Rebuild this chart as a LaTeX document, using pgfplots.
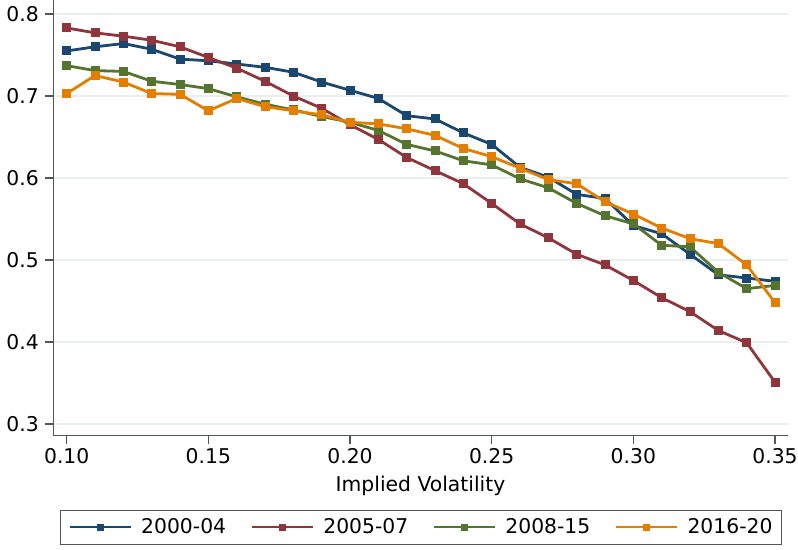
\documentclass[border=0pt]{standalone}
\usepackage{fontspec}
\setmainfont{DejaVu Sans}
\usepackage{pgfplots}
\pgfplotsset{compat=1.18}
\definecolor{snavy}{RGB}{26,71,111}
\definecolor{smaroon}{RGB}{144,53,59}
\definecolor{sgreen}{RGB}{85,117,47}
\definecolor{sorange}{RGB}{227,126,0}
\definecolor{sgrid}{RGB}{232,239,241}
\definecolor{saxis}{RGB}{85,85,85}
\pgfplotstableread{
x     a     b     c     d
0.10 0.755 0.783 0.737 0.703
0.11 0.760 0.777 0.731 0.725
0.12 0.764 0.773 0.730 0.717
0.13 0.757 0.768 0.718 0.703
0.14 0.745 0.760 0.714 0.702
0.15 0.743 0.747 0.709 0.682
0.16 0.739 0.734 0.699 0.697
0.17 0.735 0.718 0.690 0.687
0.18 0.729 0.700 0.683 0.682
0.19 0.717 0.685 0.675 0.677
0.20 0.707 0.665 0.668 0.668
0.21 0.697 0.647 0.658 0.666
0.22 0.676 0.625 0.641 0.660
0.23 0.672 0.609 0.633 0.652
0.24 0.655 0.593 0.621 0.636
0.25 0.641 0.569 0.616 0.626
0.26 0.613 0.544 0.599 0.612
0.27 0.601 0.527 0.588 0.598
0.28 0.580 0.507 0.569 0.593
0.29 0.575 0.494 0.554 0.571
0.30 0.542 0.475 0.544 0.556
0.31 0.532 0.454 0.518 0.539
0.32 0.507 0.437 0.516 0.526
0.33 0.482 0.414 0.485 0.520
0.34 0.478 0.399 0.465 0.494
0.35 0.474 0.351 0.469 0.448
}\datatable
\begin{document}
\fontsize{20.4}{24}\selectfont
\begin{tikzpicture}
\useasboundingbox (0,0) rectangle (798bp,550bp);
\begin{axis}[
  at={(53.3bp,114.3bp)}, anchor=south west,
  scale only axis, width=734.4bp, height=435.7bp,
  xmin=0.09527, xmax=0.35448, ymin=0.2857, ymax=0.8171,
  axis x line=bottom, axis y line=left,
  axis line style={-, saxis, line width=1.3bp},
  xtick={0.10,0.15,0.20,0.25,0.30,0.35},
  ytick={0.3,0.4,0.5,0.6,0.7,0.8},
  minor tick num=0,
  tick align=outside, major tick length=8bp,
  tick style={saxis, line width=1.1bp},
  ymajorgrids, major grid style={sgrid, line width=1.2bp},
  /pgf/number format/assume math mode=true,
  xticklabel style={/pgf/number format/.cd, fixed, fixed zerofill, precision=2, /tikz/.cd, anchor=north, inner sep=0pt, yshift=-4.6bp},
  yticklabel style={/pgf/number format/.cd, fixed, fixed zerofill, precision=1, /tikz/.cd, anchor=east, inner sep=0pt, xshift=-6.3bp},
  xlabel={Implied Volatility},
  xlabel style={at={(axis description cs:0.5,0)}, anchor=base, yshift=-56bp, inner sep=0pt},
  clip=false,
  every axis plot/.append style={line width=2.8bp, mark=square*, mark size=3.1bp, mark options={solid}},
  legend image code/.code={
    \draw[mark repeat=2,mark phase=2,#1] plot coordinates {(0bp,0bp)(30.5bp,0bp)(61bp,0bp)};
  },
  legend image post style={line width=2.2bp, mark size=2.4bp},
  legend columns=4,
  legend style={at={(0.5,-0.17053)}, anchor=north, draw=saxis,
    inner xsep=8.3bp, inner ysep=8bp, nodes={inner sep=0pt},
    /tikz/every odd column/.append style={column sep=9.5bp},
    /tikz/every even column/.append style={column sep=24.5bp}},
  legend cell align=left,
]
\addplot[color=snavy] table[x=x, y=a] {\datatable};
\addplot[color=smaroon] table[x=x, y=b] {\datatable};
\addplot[color=sgreen] table[x=x, y=c] {\datatable};
\addplot[color=sorange] table[x=x, y=d] {\datatable};
\legend{2000-04, 2005-07, 2008-15, 2016-20}
\end{axis}
\end{tikzpicture}
\end{document}
